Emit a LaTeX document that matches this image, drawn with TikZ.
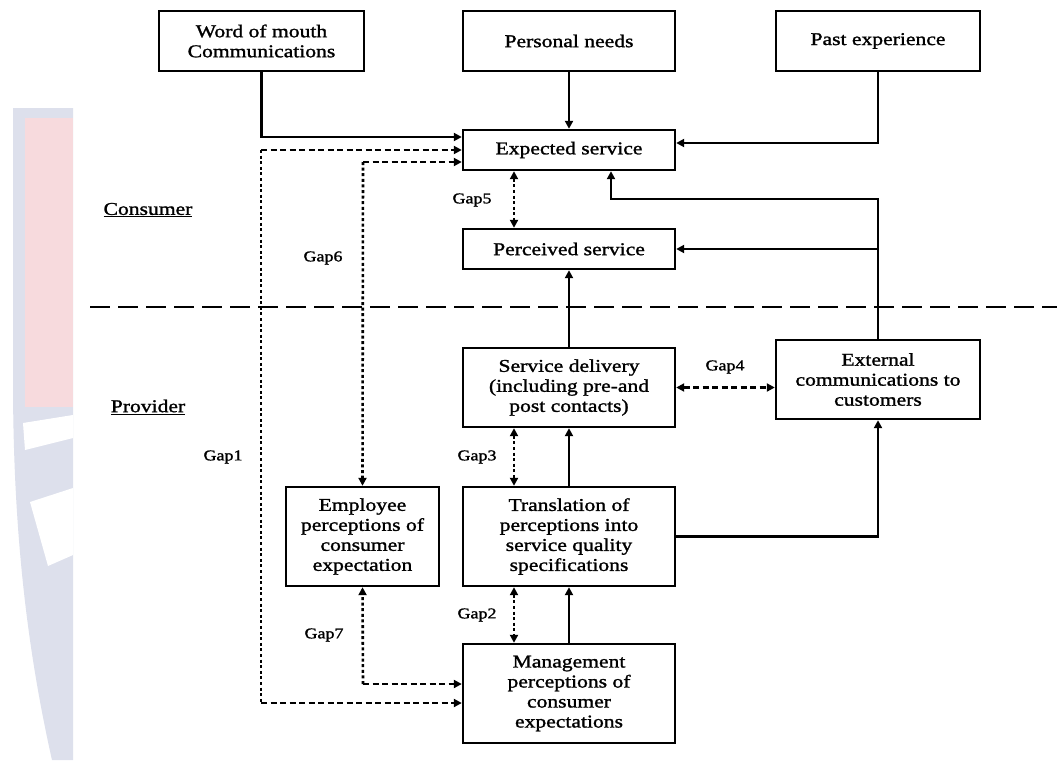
\documentclass[tikz,border=0pt]{standalone}
\usepackage{fontspec}
\setmainfont{Liberation Serif}[FakeStretch=1.2, FakeBold=1.4]
\usetikzlibrary{arrows.meta}
\definecolor{wmgrey}{HTML}{DDE0EC}
\definecolor{wmpink}{HTML}{F7DADD}
\tikzset{
  box/.style={draw, line width=2.4pt, align=center, inner sep=2pt,
    font=\fontsize{18}{20}\selectfont},
  lbl/.style={font=\fontsize{15}{17}\selectfont},
  side/.style={font=\fontsize{18}{20}\selectfont},
  tip/.style={-{Triangle[length=8pt,width=8pt]}},
  tips/.style={{Triangle[length=8pt,width=8pt]}-{Triangle[length=8pt,width=8pt]}},
  link/.style={line width=2.4pt},
  dsh/.style={line width=2.4pt, dash pattern=on 6pt off 3.5pt},
  dot/.style={line width=2.6pt, dash pattern=on 3pt off 2.6pt},
}
\begin{document}
\begin{tikzpicture}[x=1pt,y=-1pt]
\useasboundingbox (0,0) rectangle (1057,760);
\fill[white] (0,0) rectangle (1057,760);

% faint emblem on the left margin
\fill[wmgrey] (13,108) -- (73,108) -- (73,760) -- (52,760)
  .. controls (25,640) and (13,520) .. (13,380) -- cycle;
\fill[wmpink] (25,118) rectangle (73,407);
\fill[white] (23,423) -- (73,415) -- (73,438) -- (25,450) -- cycle;
\fill[white] (30,502) -- (73,488) -- (73,555) -- (48,566) -- cycle;

% boxes
\node[box, minimum width=205pt, minimum height=60pt] (wom) at (261.5,41) {Word of mouth\\Communications};
\node[box, minimum width=212pt, minimum height=60pt] (pn) at (569,41) {Personal needs};
\node[box, minimum width=204pt, minimum height=60pt] (pe) at (878,41) {Past experience};
\node[box, minimum width=212pt, minimum height=40pt] (es) at (569,150) {Expected service};
\node[box, minimum width=212pt, minimum height=40pt] (ps) at (569,249) {Perceived service};
\node[box, minimum width=212pt, minimum height=79pt] (sd) at (569,387.5) {Service delivery\\(including pre-and\\post contacts)};
\node[box, minimum width=204pt, minimum height=79pt] (ec) at (878,379.5) {External\\communications to\\customers};
\node[box, minimum width=153pt, minimum height=99pt] (ep) at (362.5,536.5) {Employee\\perceptions of\\consumer\\expectation};
\node[box, minimum width=212pt, minimum height=99pt] (tr) at (569,536.5) {Translation of\\perceptions into\\service quality\\specifications};
\node[box, minimum width=212pt, minimum height=99pt] (mg) at (569,693.5) {Management\\perceptions of\\consumer\\expectations};

% side labels
\node[side] (cons) at (148,210) {\underline{Consumer}};
\node[side] (prov) at (148,407) {\underline{Provider}};

% gap labels
\node[lbl] (g5) at (472,200) {Gap5};
\node[lbl] (g6) at (323,258) {Gap6};
\node[lbl] (g4) at (725,367) {Gap4};
\node[lbl] (g1) at (223,457) {Gap1};
\node[lbl] (g3) at (477,457) {Gap3};
\node[lbl] (g2) at (477,615) {Gap2};
\node[lbl] (g7) at (324,635) {Gap7};

% consumer / provider divide
\coordinate (divl) at (90,307);
\coordinate (divr) at (1057,307);
\draw[line width=2.6pt, dash pattern=on 20pt off 8pt] (divl) -- (divr);

% solid links
\draw[link,tip] (wom.south) |- (es.west |- 0,137);
\draw[link,tip] (pn.south) -- (es.north);
\draw[link,tip] (pe.south) |- (es.east |- 0,143);
\coordinate (ecb) at (611,199);
\draw[link,tip] (ec.north) |- (ecb) -- (es.south -| ecb);
\draw[link,tip] (ec.north |- ps.east) -- (ps.east);
\draw[link,tip] (sd.north) -- (ps.south);
\draw[link,tip] (tr.north) -- (sd.south);
\draw[link,tip] (mg.north) -- (tr.south);
\draw[link,tip] (tr.east) -| (ec.south);

% gap 1
\coordinate (g1t) at (261,150);
\coordinate (g1b) at (261,703);
\draw[dsh,tip] (g1t) -- (es.west |- g1t);
\draw[dot] (g1t) -- (g1b);
\draw[dsh,tip] (g1b) -- (mg.west |- g1b);

% gap 6
\coordinate (g6t) at (363,162);
\draw[dsh,tip] (g6t) -- (es.west |- g6t);
\draw[dot,tip] (g6t) -- (ep.north);

% gap 7
\coordinate (g7b) at (363,684);
\draw[dot,tip] (g7b) -- (ep.south);
\draw[dsh,tip] (g7b) -- (mg.west |- g7b);

% gaps 5, 3, 2
\coordinate (gx) at (514,0);
\draw[dot,tips] (es.south -| gx) -- (ps.north -| gx);
\draw[dot,tips] (sd.south -| gx) -- (tr.north -| gx);
\draw[dot,tips] (tr.south -| gx) -- (mg.north -| gx);

% gap 4
\draw[dsh,tips] (sd.east) -- (ec.west |- sd.east);
\end{tikzpicture}
\end{document}
